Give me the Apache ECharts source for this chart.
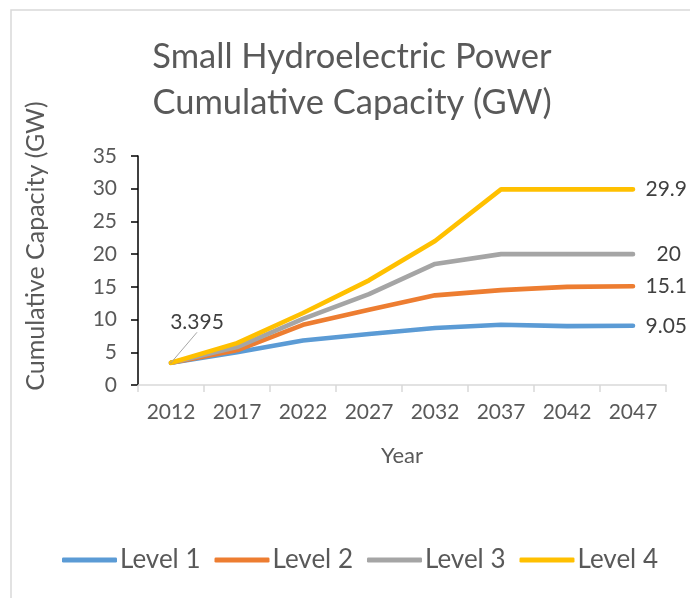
<!DOCTYPE html>
<html lang="en">
<head>
    <meta charset="UTF-8">
    <title>Small Hydroelectric Power</title>
    <script src="https://cdn.jsdelivr.net/npm/echarts@6/dist/echarts.min.js"></script>
    <style>
        html, body { margin: 0; padding: 0; background: #fff; }
        #chart { width: 690px; height: 598px; }
    </style>
</head>
<body>
<div id="chart"></div>

<script type="text/javascript">
    // data
    var years = ['2012', '2017', '2022', '2027', '2032', '2037', '2042', '2047'];
    var level1 = [3.395, 5.0, 6.8, 7.8, 8.7, 9.2, 9.0, 9.05];
    var level2 = [3.395, 5.3, 9.2, 11.5, 13.7, 14.5, 15.0, 15.1];
    var level3 = [3.395, 5.8, 10.1, 13.9, 18.5, 20.0, 20.0, 20];
    var level4 = [3.395, 6.4, 11.0, 16.0, 22.0, 29.9, 29.9, 29.9];
    var yTicks = [0, 5, 10, 15, 20, 25, 30, 35];

    var txt = '#595959';
    var font = 'Lato';

    // first point gets the 3.395 callout, last point the end value
    function withLabels(arr, endDist, startLabel) {
        return arr.map(function (v, i) {
            if (i === arr.length - 1) {
                return {
                    value: v,
                    label: {show: true, position: 'right', distance: endDist,
                        fontSize: 21, color: '#404040', fontFamily: font},
                    labelLine: {show: false}
                };
            }
            if (i === 0 && startLabel) {
                return {
                    value: v,
                    label: {show: true, position: 'top', distance: 5,
                        fontSize: 21, color: '#404040', fontFamily: font},
                    labelLine: {show: true, lineStyle: {color: '#a6a6a6', width: 1}}
                };
            }
            return {value: v, label: {show: false}};
        });
    }

    function mkSeries(name, arr, color, endDist, startLabel) {
        return {
            name: name,
            type: 'line',
            data: withLabels(arr, endDist, startLabel),
            symbol: 'circle',
            symbolSize: 1,
            showSymbol: true,
            lineStyle: {color: color, width: 4.6, cap: 'round', join: 'round'},
            itemStyle: {color: color},
            labelLine: {show: false},
            labelLayout: function (p) {
                if (p.dataIndex === 0) {
                    return {dx: 26, dy: -25};
                }
                return {};
            },
            z: 2
        };
    }

    var myChart = echarts.init(document.getElementById('chart'));

    var option = {
        animation: false,
        textStyle: {fontFamily: font},
        title: {
            text: 'Small Hydroelectric Power\nCumulative Capacity (GW)',
            left: 347,
            top: 29,
            textAlign: 'center',
            textStyle: {fontSize: 34.5, fontWeight: 'normal', color: txt, lineHeight: 46, fontFamily: font}
        },
        graphic: [
            {
                type: 'polyline',
                shape: {points: [[11, 700], [11, 10], [800, 10]]},
                style: {stroke: '#d9d9d9', lineWidth: 1.5, fill: null},
                silent: true
            },
            {
                type: 'text',
                x: 36,
                y: 246,
                rotation: Math.PI / 2,
                style: {
                    text: 'Cumulative Capacity (GW)',
                    fontSize: 25,
                    fontFamily: font,
                    fill: txt,
                    align: 'center',
                    verticalAlign: 'middle'
                }
            }
        ],
        legend: {
            bottom: 20,
            left: 57,
            itemWidth: 55,
            itemHeight: 5,
            itemGap: 14,
            icon: 'roundRect',
            textStyle: {fontSize: 26, color: txt, fontFamily: font, padding: [0, 0, 0, -2]},
            data: ['Level 1', 'Level 2', 'Level 3', 'Level 4']
        },
        grid: {left: 138, right: 24, top: 156, bottom: 213},
        xAxis: {
            type: 'category',
            data: years,
            boundaryGap: true,
            name: 'Year',
            nameLocation: 'middle',
            nameGap: 60,
            nameTextStyle: {fontSize: 22, color: txt, fontFamily: font},
            axisLine: {lineStyle: {color: '#d9d9d9', width: 1.5}},
            axisTick: {show: true, length: 7, lineStyle: {color: '#d9d9d9', width: 1.5}},
            axisLabel: {fontSize: 21, color: txt, margin: 17, fontFamily: font},
            splitLine: {show: false}
        },
        yAxis: {
            type: 'value',
            min: yTicks[0],
            max: yTicks[yTicks.length - 1],
            interval: 5,
            axisLine: {show: true, lineStyle: {color: '#000', width: 1.5}},
            axisTick: {show: true, length: 7, lineStyle: {color: '#000', width: 1.5}},
            axisLabel: {fontSize: 21, color: txt, margin: 21, fontFamily: font},
            splitLine: {show: false}
        },
        series: [
            mkSeries('Level 1', level1, '#5b9bd5', 12, false),
            mkSeries('Level 2', level2, '#ed7d31', 12, false),
            mkSeries('Level 3', level3, '#a5a5a5', 23, false),
            mkSeries('Level 4', level4, '#ffc000', 12, true)
        ]
    };

    myChart.setOption(option);
</script>
</body>
</html>
